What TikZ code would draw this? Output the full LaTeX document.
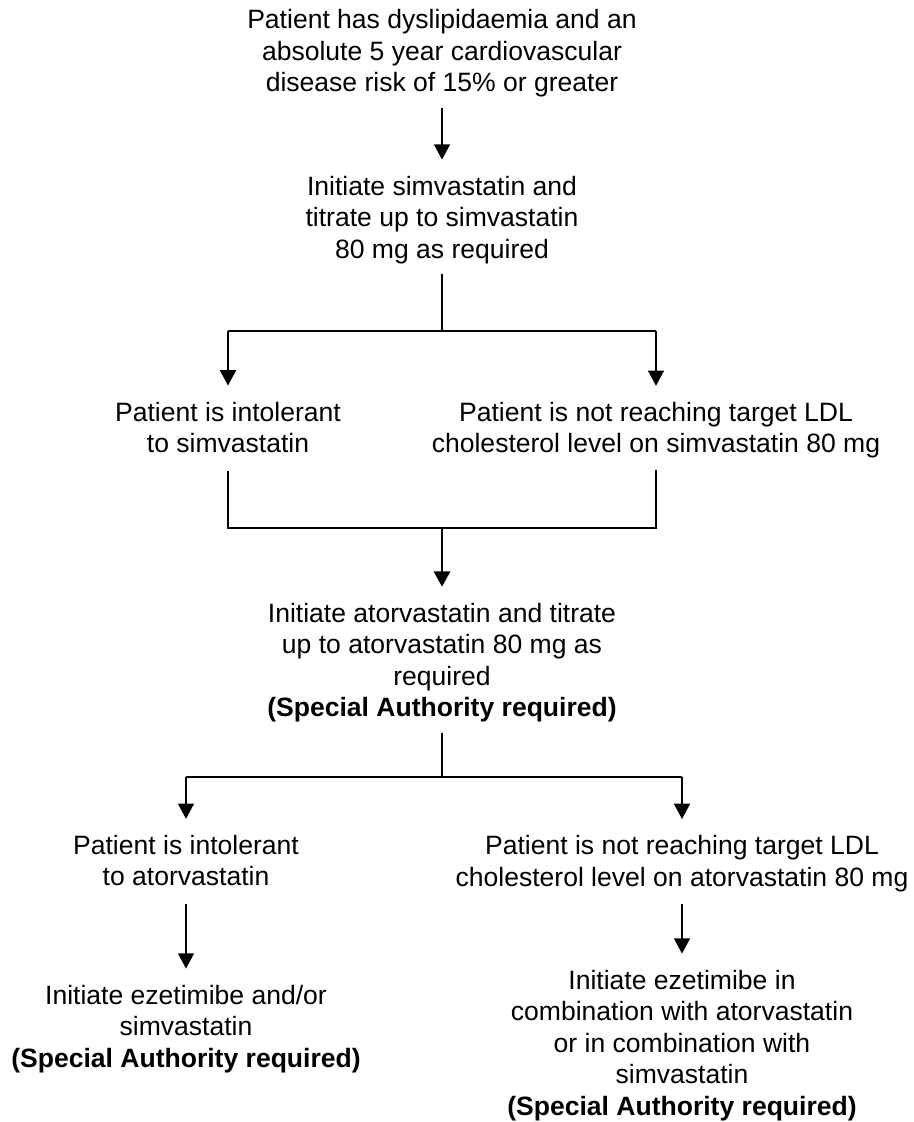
\documentclass[tikz,border=0pt]{standalone}
\usepackage{fontspec}
\setmainfont{Liberation Sans}
\usetikzlibrary{arrows.meta}

\begin{document}
\begin{tikzpicture}[x=0.75pt,y=-0.75pt]
	\tikzstyle{every node}+=[inner sep=0pt, align=center, font=\fontsize{19.9}{23.6}\selectfont]
	\tikzstyle{arr}=[black, line width=1.1pt, shorten >=12pt, -{Triangle[width=12pt,length=11.5pt]}]
	\useasboundingbox (0,0) rectangle (914,1122);
	\node (risk) at (442,53.6) {Patient has dyslipidaemia and an\\absolute 5 year cardiovascular\\disease risk of 15\% or greater};
	\node (simva) at (442,219.7) {Initiate simvastatin and\\titrate up to simvastatin\\80 mg as required};
	\node (intolS) at (228,427.3) {Patient is intolerant\\to simvastatin};
	\node (targetS) at (656,430.2) {Patient is not reaching target LDL\\cholesterol level on simvastatin 80 mg};
	\node (atorva) at (442,662.6) {Initiate atorvastatin and titrate\\up to atorvastatin 80 mg as\\required\\\textbf{(Special Authority required)}};
	\node (intolA) at (186,860.6) {Patient is intolerant\\to atorvastatin};
	\node (targetA) at (682,863.4) {Patient is not reaching target LDL\\cholesterol level on atorvastatin 80 mg};
	\node (ezeA) at (186,1028.7) {Initiate ezetimibe and/or\\simvastatin\\\textbf{(Special Authority required)}};
	\node (ezeB) at (682,1045.2) {Initiate ezetimibe in\\combination with atorvastatin\\or in combination with\\simvastatin\\\textbf{(Special Authority required)}};
	\coordinate (split1) at (442,331);
	\coordinate (join1) at (442,528);
	\coordinate (split2) at (442,777);
	\draw [arr, shorten <=7.8pt] (risk) -- (simva);
	\draw [black, line width=1.1pt, shorten <=7.8pt] (simva) -- (split1);
	\draw [black, line width=1.1pt] (intolS |- split1) -- (targetS |- split1);
	\draw [arr] (intolS |- split1) -- (intolS);
	\draw [arr] (targetS |- split1) -- (targetS);
	\draw [black, line width=1.1pt, shorten <=13.5pt, shorten >=8.5pt] (intolS) -- (intolS |- join1) -- (targetS |- join1) -- (targetS);
	\draw [arr, line width=2pt] (join1) -- (atorva);
	\draw [black, line width=2pt, shorten <=7.8pt] (atorva) -- (split2);
	\draw [black, line width=1.1pt] (intolA |- split2) -- (targetA |- split2);
	\draw [arr] (intolA |- split2) -- (intolA);
	\draw [arr] (targetA |- split2) -- (targetA);
	\draw [arr, shorten <=13.5pt] (intolA) -- (ezeA);
	\draw [arr, shorten <=9pt] (targetA) -- (ezeB);
\end{tikzpicture}
\end{document}
